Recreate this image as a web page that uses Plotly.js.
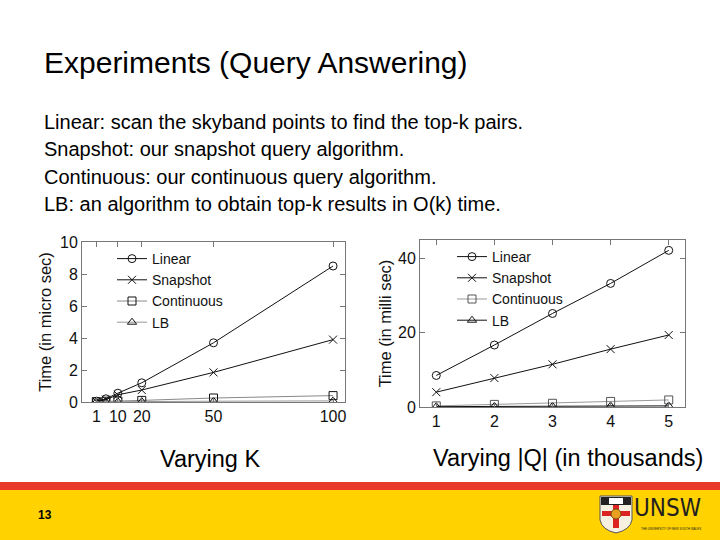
<!DOCTYPE html>
<html>
<head>
<meta charset="utf-8">
<script src="https://cdn.plot.ly/plotly-3.0.1.min.js"></script>
<style>
html,body{margin:0;padding:0;background:#fff;}
#chart{width:720px;height:540px;}
</style>
</head>
<body>
<div id="chart"></div>
<script>
// ---- Data: chart 1 (Varying K) ----
const kValues = [1, 5, 10, 20, 50, 100];
const kTicks = [1, 10, 20, 50, 100];
const kLinear = [0.05, 0.2, 0.55, 1.2, 3.7, 8.5];
const kSnapshot = [0.03, 0.15, 0.45, 0.75, 1.85, 3.9];
const kContinuous = [0.02, 0.05, 0.06, 0.1, 0.25, 0.4];
const kLB = [0.01, 0.01, 0.02, 0.03, 0.05, 0.07];

// ---- Data: chart 2 (Varying |Q|) ----
const qValues = [1, 2, 3, 4, 5];
const qLinear = [8.5, 16.7, 25.2, 33.3, 42.2];
const qSnapshot = [4.0, 7.8, 11.5, 15.6, 19.4];
const qContinuous = [0.3, 0.7, 1.0, 1.5, 1.9];
const qLB = [0.1, 0.2, 0.2, 0.3, 0.3];

const seriesNames = ["Linear", "Snapshot", "Continuous", "LB"];
const symbols = ["circle-open", "x-thin-open", "square-open", "triangle-up-open"];

const bullets = [
  "Linear: scan the skyband points to find the top-k pairs.",
  "Snapshot: our snapshot query algorithm.",
  "Continuous: our continuous query algorithm.",
  "LB: an algorithm to obtain top-k results in O(k) time."
];

const FONT = "Liberation Sans, Arial, sans-serif";

function mk(x, y, i, axisSuffix, legendId, lineColor, markerColor) {
  return {
    x: x, y: y, name: seriesNames[i], type: "scatter", mode: "lines+markers",
    xaxis: "x" + axisSuffix, yaxis: "y" + axisSuffix, legend: legendId,
    line: {color: lineColor, width: 1},
    marker: {symbol: symbols[i], size: 8, color: markerColor, line: {color: markerColor, width: 1}}
  };
}

const k1Series = [kLinear, kSnapshot, kContinuous, kLB];
const q2Series = [qLinear, qSnapshot, qContinuous, qLB];
const k1LineColors = ["#111", "#111", "#888", "#999"];
const q2LineColors = ["#111", "#111", "#999", "#111"];
const q2MarkColors = ["#111", "#111", "#555", "#111"];

const traces = [];
k1Series.forEach((s, i) => traces.push(mk(kValues, s, i, "", "legend", k1LineColors[i], "#111")));
q2Series.forEach((s, i) => traces.push(mk(qValues, s, i, "2", "legend2", q2LineColors[i], q2MarkColors[i])));

const axisCommon = {
  showline: true, mirror: "ticks", linecolor: "#777", linewidth: 1,
  ticks: "inside", ticklen: 5, tickcolor: "#777",
  showgrid: false, zeroline: false,
  tickfont: {family: FONT, size: 16, color: "#111"}
};

const annotations = [
  {text: "Experiments (Query Answering)", x: 42/720, y: 1 - 62/540, xref: "paper", yref: "paper",
   xanchor: "left", yanchor: "middle", showarrow: false, font: {family: FONT, size: 30, color: "#000"}},
  {text: "Varying K", x: 158/720, y: 1 - 459/540, xref: "paper", yref: "paper",
   xanchor: "left", yanchor: "middle", showarrow: false, font: {family: FONT, size: 23.5, color: "#000"}},
  {text: "Varying |Q| (in thousands)", x: 431/720, y: 1 - 458/540, xref: "paper", yref: "paper",
   xanchor: "left", yanchor: "middle", showarrow: false, font: {family: FONT, size: 23.5, color: "#000"}},
  {text: "<b>13</b>", x: 36/720, y: 1 - 515/540, xref: "paper", yref: "paper",
   xanchor: "left", yanchor: "middle", showarrow: false, font: {family: FONT, size: 12, color: "#000"}},
  {text: "UNSW", x: 703/720, y: 1 - 508/540, xref: "paper", yref: "paper",
   xanchor: "right", yanchor: "middle", showarrow: false, font: {family: "Liberation Sans Narrow, DejaVu Sans Condensed, sans-serif", size: 24, color: "#231f20"}},
  {text: "THE UNIVERSITY OF NEW SOUTH WALES", x: 703/720, y: 1 - 529/540, xref: "paper", yref: "paper",
   xanchor: "right", yanchor: "middle", showarrow: false, font: {family: "Liberation Sans Narrow, sans-serif", size: 3, color: "#231f20"}}
];
const bulletY = [122, 149, 177, 204];
bullets.forEach((b, i) => annotations.push({
  text: b, x: 42/720, y: 1 - bulletY[i]/540, xref: "paper", yref: "paper",
  xanchor: "left", yanchor: "middle", showarrow: false, font: {family: FONT, size: 20, color: "#000"}
}));

const shapes = [
  {type: "rect", xref: "paper", yref: "paper", x0: 0, x1: 1, y0: 1 - 490/540, y1: 1 - 482/540, fillcolor: "#e8392a", line: {width: 0}, layer: "below"},
  {type: "rect", xref: "paper", yref: "paper", x0: 0, x1: 1, y0: 0, y1: 1 - 490/540, fillcolor: "#ffd200", line: {width: 0}, layer: "below"},
  // crest approximation
  {type: "path", xref: "paper", yref: "paper", layer: "above",
   path: "M " + (600/720) + "," + (1-496/540) + " L " + (632/720) + "," + (1-496/540) + " L " + (632/720) + "," + (1-520/540) +
         " Q " + (630/720) + "," + (1-530/540) + " " + (616/720) + "," + (1-533/540) +
         " Q " + (602/720) + "," + (1-530/540) + " " + (600/720) + "," + (1-520/540) + " Z",
   fillcolor: "#f5f0e0", line: {color: "#555", width: 1}},
  {type: "rect", xref: "paper", yref: "paper", x0: 601/720, x1: 631/720, y0: 1 - 505/540, y1: 1 - 497/540, fillcolor: "#222", line: {width: 0}, layer: "above"},
  {type: "rect", xref: "paper", yref: "paper", x0: 609/720, x1: 623/720, y0: 1 - 504/540, y1: 1 - 498/540, fillcolor: "#fff", line: {width: 0}, layer: "above"},
  {type: "rect", xref: "paper", yref: "paper", x0: 613/720, x1: 619/720, y0: 1 - 528/540, y1: 1 - 505/540, fillcolor: "#d22", line: {width: 0}, layer: "above"},
  {type: "rect", xref: "paper", yref: "paper", x0: 602/720, x1: 630/720, y0: 1 - 516/540, y1: 1 - 511/540, fillcolor: "#d22", line: {width: 0}, layer: "above"},
  {type: "circle", xref: "paper", yref: "paper", x0: 611/720, x1: 621/720, y0: 1 - 519/540, y1: 1 - 509/540, fillcolor: "#e8a020", line: {color: "#7a4a10", width: 1}, layer: "above"}
];

const layout = {
  width: 720, height: 540,
  margin: {l: 0, r: 0, t: 0, b: 0},
  paper_bgcolor: "#fff", plot_bgcolor: "rgba(0,0,0,0)",
  font: {family: FONT, color: "#111"},
  showlegend: true,
  xaxis: Object.assign({}, axisCommon, {domain: [82/720, 345/720], range: [-5, 105], tickvals: kTicks, anchor: "y"}),
  yaxis: Object.assign({}, axisCommon, {domain: [1 - 402/540, 1 - 242/540], range: [0, 10], dtick: 2, anchor: "x",
    title: {text: "Time (in micro sec)", font: {family: FONT, size: 16.5, color: "#111"}, standoff: 4}}),
  xaxis2: Object.assign({}, axisCommon, {domain: [420/720, 685/720], range: [0.72, 5.28], tickvals: qValues, anchor: "y2"}),
  yaxis2: Object.assign({}, axisCommon, {domain: [1 - 407/540, 1 - 240/540], range: [0, 45], tickvals: [0, 20, 40], anchor: "x2",
    title: {text: "Time (in milli sec)", font: {family: FONT, size: 16.5, color: "#111"}, standoff: 2}}),
  legend: {x: 112/720, y: 1 - 243/540, xanchor: "left", yanchor: "top", bgcolor: "rgba(0,0,0,0)",
    font: {family: FONT, size: 14, color: "#111"}, tracegroupgap: 0},
  legend2: {x: 452/720, y: 1 - 241/540, xanchor: "left", yanchor: "top", bgcolor: "rgba(0,0,0,0)",
    font: {family: FONT, size: 14, color: "#111"}, tracegroupgap: 0},
  annotations: annotations,
  shapes: shapes
};

Plotly.newPlot("chart", traces, layout, {displayModeBar: false, staticPlot: true});
</script>
</body>
</html>
